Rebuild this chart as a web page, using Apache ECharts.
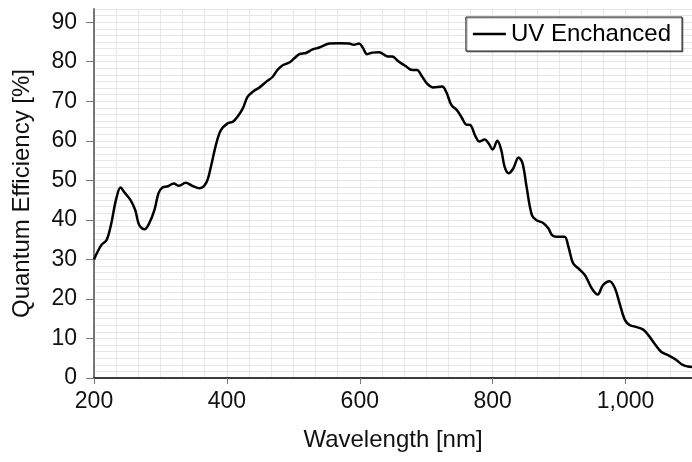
<!DOCTYPE html>
<html>
<head>
<meta charset="utf-8">
<script src="https://cdn.jsdelivr.net/npm/echarts@6/dist/echarts.min.js"></script>
<style>
  html, body { margin: 0; padding: 0; background: #fff; }
  #chart { width: 692px; height: 462px; }
</style>
</head>
<body>
<div id="chart"></div>
<script>
// wavelength [nm] and quantum efficiency [%]
var wavelengths = [200, 211, 219, 226, 233, 240, 246, 255, 262, 268, 276, 283, 291, 297, 303, 311, 320, 328, 338, 348,
    359, 369, 376, 384, 391, 401, 409, 416, 424, 431, 439, 449, 459, 469, 476, 484, 494, 501, 509, 519,
    529, 539, 554, 569, 584, 591, 599, 605, 611, 619, 629, 641, 649, 659, 669, 679, 686, 694, 701, 710,
    724, 730, 738, 746, 754, 760, 766, 774, 780, 788, 794, 800, 807, 813, 818, 824, 831, 839, 845, 851,
    859, 866, 876, 884, 889, 896, 908, 914, 921, 929, 939, 949, 958, 966, 976, 984, 991, 999, 1006, 1014,
    1026, 1034, 1044, 1054, 1066, 1076, 1086, 1094, 1100];
var uvEnhanced = [30.0, 33.6, 34.9, 39.1, 45.0, 48.2, 46.9, 45.0, 42.5, 38.7, 37.6, 39.1, 42.5, 46.7, 48.2, 48.5, 49.2, 48.6, 49.4, 48.6,
    48.0, 49.4, 53.5, 59.3, 62.7, 64.4, 64.8, 66.1, 68.2, 71.1, 72.4, 73.5, 74.9, 76.2, 77.9, 79.1, 79.8, 80.8, 81.9, 82.2,
    83.1, 83.6, 84.6, 84.7, 84.6, 84.3, 84.6, 83.4, 81.9, 82.3, 82.4, 81.4, 81.3, 80.0, 78.9, 77.9, 77.9, 76.2, 74.5, 73.5,
    73.7, 72.4, 69.0, 67.8, 65.7, 64.1, 64.0, 61.2, 59.8, 60.3, 59.3, 57.8, 60.0, 57.6, 53.4, 51.8, 53.0, 55.8, 54.3, 48.4,
    41.2, 39.9, 39.2, 37.8, 36.2, 35.7, 35.7, 33.2, 29.0, 27.7, 26.0, 22.7, 21.1, 23.5, 24.5, 22.7, 18.9, 14.7, 13.4, 13.0,
    12.3, 10.9, 8.6, 6.6, 5.6, 4.6, 3.3, 2.9, 2.8];
var xTicks = [200, 400, 600, 800, 1000];
var yTicks = [0, 10, 20, 30, 40, 50, 60, 70, 80, 90];

var fontName = '"Liberation Sans", Arial, Helvetica, sans-serif';
var gridColor = '#e6e6e6';

var chart = echarts.init(document.getElementById('chart'));

function formatThousands(v) {
    return Math.round(v).toString().replace(/\B(?=(\d{3})+(?!\d))/g, ',');
}

var points = wavelengths.map(function(w, i) {
    return [w, uvEnhanced[i]];
});

option = {
    animation: false,
    backgroundColor: '#fff',
    grid: {
        left: 94,
        right: -2,
        top: 9,
        bottom: 84
    },
    legend: {
        right: 10,
        top: 17,
        padding: [5, 11, 5, 7],
        borderColor: '#222',
        borderWidth: 1,
        shadowColor: 'rgba(0,0,0,0.4)',
        shadowOffsetX: 1,
        shadowOffsetY: 1,
        backgroundColor: '#fff',
        itemWidth: 33,
        itemHeight: 14,
        textStyle: { fontFamily: fontName, fontSize: 24, color: '#000' },
        data: [{ name: 'UV Enchanced', icon: 'path://M0,6 L33,6 L33,8.5 L0,8.5 Z' }]
    },
    xAxis: [{
        type: 'value',
        min: 200,
        max: 1100,
        interval: 200,
        name: 'Wavelength [nm]',
        nameLocation: 'middle',
        nameGap: 50,
        nameTextStyle: { fontFamily: fontName, fontSize: 24, color: '#111' },
        axisLine: { show: true, lineStyle: { color: '#000', width: 1.5 } },
        axisTick: { show: true, length: 6, customValues: xTicks, lineStyle: { color: '#777', width: 1 } },
        axisLabel: {
            customValues: xTicks,
            margin: 12,
            fontFamily: fontName,
            fontSize: 23,
            color: '#111',
            formatter: formatThousands
        },
        splitLine: { show: false }
    }, {
        type: 'value',
        min: 200,
        max: 1100,
        interval: 100 / 3,
        position: 'bottom',
        axisLine: { show: false },
        axisTick: { show: false },
        axisLabel: { show: false },
        splitLine: { show: true, lineStyle: { color: gridColor, width: 1 } }
    }],
    yAxis: [{
        type: 'value',
        min: 0,
        max: 280 / 3,
        interval: 10,
        name: 'Quantum Efficiency [%]',
        nameLocation: 'middle',
        nameGap: 60,
        nameTextStyle: { fontFamily: fontName, fontSize: 24, color: '#111' },
        axisLine: { show: true, lineStyle: { color: '#777', width: 2 } },
        axisTick: { show: true, length: 8, customValues: yTicks, lineStyle: { color: '#777', width: 1 } },
        axisLabel: {
            customValues: yTicks,
            margin: 17,
            fontFamily: fontName,
            fontSize: 23,
            color: '#111'
        },
        splitLine: { show: false }
    }, {
        type: 'value',
        min: 0,
        max: 280 / 3,
        interval: 10 / 6,
        axisLine: { show: false },
        axisTick: { show: false },
        axisLabel: { show: false },
        splitLine: { show: true, lineStyle: { color: gridColor, width: 1 } }
    }],
    series: [{
        name: 'UV Enchanced',
        type: 'line',
        xAxisIndex: 0,
        yAxisIndex: 0,
        data: points,
        smooth: 0.35,
        symbol: 'none',
        lineStyle: { color: '#000', width: 2.5 },
        itemStyle: { color: '#000' },
        z: 5
    }]
};

chart.setOption(option);
</script>
</body>
</html>
